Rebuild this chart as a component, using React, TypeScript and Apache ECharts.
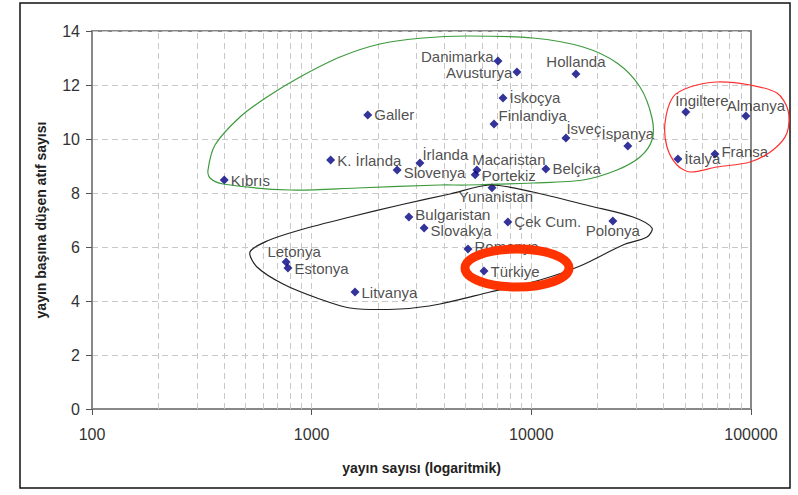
import React, { useEffect, useRef } from "react";
import * as echarts from "echarts";

// Data
const COUNTRIES = [
  "Kıbrıs", "K. İrlanda", "Galler", "Slovenya", "İrlanda", "Macaristan", "Portekiz", "Belçika",
  "Yunanistan", "Danimarka", "Avusturya", "Hollanda", "İskoçya", "Finlandiya", "İsveç", "İspanya",
  "İngiltere", "Almanya", "Fransa", "İtalya", "Bulgaristan", "Slovakya", "Letonya", "Estonya",
  "Litvanya", "Romanya", "Türkiye", "Çek Cum.", "Polonya",
];
const PUBLICATIONS = [
  400, 1220, 1800, 2450, 3110, 5650, 5550, 11650,
  6620, 7050, 8600, 15960, 7430, 6760, 14370, 27500,
  50500, 94800, 68500, 46500, 2770, 3250, 765, 780,
  1575, 5150, 6090, 7820, 23500,
];
const CITATIONS = [
  8.48, 9.22, 10.89, 8.85, 9.11, 8.85, 8.68, 8.89,
  8.19, 12.89, 12.48, 12.41, 11.52, 10.56, 10.04, 9.74,
  11.0, 10.85, 9.44, 9.26, 7.11, 6.7, 5.44, 5.22,
  4.33, 5.93, 5.11, 6.93, 6.96,
];
const X_TICKS = [100, 1000, 10000, 100000];
const X_GRID = [
  200, 300, 400, 500, 600, 700, 800, 900, 1000,
  2000, 3000, 4000, 5000, 6000, 7000, 8000, 9000, 10000,
  20000, 30000, 40000, 50000, 60000, 70000, 80000, 90000,
];
const Y_TICKS = [0, 2, 4, 6, 8, 10, 12, 14];

// Label layout (style, not data)
const LABEL_LAYOUT: Record<string, { position: string; offset?: number[] }> = {
  "Danimarka": { position: "left", offset: [2, -4] },
  "Avusturya": { position: "left", offset: [2, 0] },
  "Hollanda": { position: "top", offset: [0, 2] },
  "Finlandiya": { position: "right", offset: [-2, -8] },
  "İsveç": { position: "right", offset: [-6, -9] },
  "İspanya": { position: "top", offset: [0, 1] },
  "İngiltere": { position: "top", offset: [16, 2] },
  "Almanya": { position: "top", offset: [10, 3] },
  "Fransa": { position: "right", offset: [0, -3] },
  "Macaristan": { position: "top", offset: [32, 3] },
  "Portekiz": { position: "right", offset: [0, 1] },
  "Yunanistan": { position: "bottom", offset: [4, -5] },
  "İrlanda": { position: "right", offset: [-4, -9] },
  "Slovenya": { position: "right", offset: [0, 2] },
  "Letonya": { position: "top", offset: [8, 3] },
  "Polonya": { position: "bottom", offset: [0, -5] },
  "Romanya": { position: "right", offset: [0, -2] },
  "Slovakya": { position: "right", offset: [0, 2] },
  "Bulgaristan": { position: "right", offset: [0, -3] },
};

const GREEN_OUTLINE = [
  [208, 170], [215, 145], [240, 117], [267, 97], [300, 77], [340, 57], [380, 44], [423, 38],
  [467, 36], [533, 38], [583, 47], [617, 63], [640, 87], [652, 118], [652, 140], [640, 157],
  [617, 170], [583, 180], [533, 183], [467, 185], [440, 185], [357, 188], [290, 190], [223, 184],
  [210, 178],
];
const BLACK_OUTLINE = [
  [250, 252], [267, 241], [300, 230], [350, 217], [400, 205], [450, 194], [490, 185], [533, 192],
  [590, 206], [633, 217], [652, 228], [647, 237], [623, 245], [580, 266], [540, 280], [490, 292],
  [440, 304], [400, 309], [350, 308], [317, 298], [283, 284], [257, 267],
];
const RED_OUTLINE = [
  [665, 123], [673, 97], [690, 87], [717, 82], [750, 85], [777, 93], [788, 110], [787, 133],
  [773, 150], [750, 162], [717, 167], [690, 172], [677, 165], [667, 147],
];

export default function App() {
  const ref = useRef<HTMLDivElement>(null);
  useEffect(() => {
    if (!ref.current) return;
    const chart = echarts.init(ref.current, undefined, { renderer: "svg" });
    const font = "Liberation Sans, Arial, sans-serif";
    const data = COUNTRIES.map((name, i) => {
      const lay = LABEL_LAYOUT[name] || { position: "right" };
      return {
        name,
        value: [PUBLICATIONS[i], CITATIONS[i]],
        label: { position: lay.position, offset: lay.offset || [0, 0] },
      };
    });
    chart.setOption({
      animation: false,
      backgroundColor: "#ffffff",
      grid: {
        left: 92, top: 31, right: 47, bottom: 86,
        show: true, borderColor: "#888888", borderWidth: 2, backgroundColor: "transparent",
      },
      xAxis: {
        type: "log",
        logBase: 10,
        min: X_TICKS[0],
        max: X_TICKS[X_TICKS.length - 1],
        name: "yayın sayısı (logaritmik)",
        nameLocation: "middle",
        nameGap: 52,
        nameTextStyle: { fontFamily: font, fontWeight: "bold", fontSize: 14, color: "#222" },
        axisLine: { show: true, lineStyle: { color: "#888888", width: 2 } },
        axisTick: { show: true, length: 6, lineStyle: { color: "#555", width: 1 } },
        axisLabel: {
          fontFamily: font, fontSize: 16, color: "#333", margin: 17,
          formatter: (v: number) => String(Math.round(v)),
        },
        splitLine: { show: false },
      },
      yAxis: {
        type: "value",
        min: Y_TICKS[0],
        max: Y_TICKS[Y_TICKS.length - 1],
        interval: 2,
        name: "yayın başına düşen atıf sayısı",
        nameLocation: "middle",
        nameGap: 44,
        nameRotate: 90,
        nameTextStyle: { fontFamily: font, fontWeight: "bold", fontSize: 14, color: "#222" },
        axisLine: { show: true, lineStyle: { color: "#888888", width: 2 } },
        axisTick: { show: true, length: 6, lineStyle: { color: "#555", width: 1 } },
        axisLabel: { fontFamily: font, fontSize: 16, color: "#333", margin: 12 },
        splitLine: { show: true, lineStyle: { color: "#c8c8c8", type: [6, 4], width: 1 } },
      },
      series: [
        {
          type: "scatter",
          symbol: "diamond",
          symbolSize: 9,
          itemStyle: { color: "#000080" },
          label: {
            show: true,
            formatter: "{b}",
            fontFamily: font,
            fontSize: 15,
            color: "#222",
            distance: 2,
          },
          data,
          z: 5,
          markLine: {
            silent: true,
            symbol: "none",
            label: { show: false },
            lineStyle: { color: "#c8c8c8", type: [6, 4], width: 1 },
            data: X_GRID.map((v) => ({ xAxis: v })),
            z: 1,
          },
        },
      ],
      graphic: [
        {
          type: "rect",
          shape: { x: 20, y: 3, width: 770, height: 485 },
          style: { fill: "none", stroke: "#111", lineWidth: 1.5 },
          z: 0,
        },
        {
          type: "polygon",
          shape: { points: GREEN_OUTLINE, smooth: 0.3 },
          style: { fill: "none", stroke: "#3c9a3c", lineWidth: 1.2 },
          z: 10,
        },
        {
          type: "polygon",
          shape: { points: BLACK_OUTLINE, smooth: 0.3 },
          style: { fill: "none", stroke: "#222", lineWidth: 1.2 },
          z: 10,
        },
        {
          type: "polygon",
          shape: { points: RED_OUTLINE, smooth: 0.3 },
          style: { fill: "none", stroke: "#ff3030", lineWidth: 1.2 },
          z: 10,
        },
        {
          type: "ellipse",
          shape: { cx: 517, cy: 268, rx: 52, ry: 19 },
          style: { fill: "none", stroke: "#ff3300", lineWidth: 9 },
          z: 20,
        },
      ],
    });
    return () => chart.dispose();
  }, []);
  return (
    <div
      ref={ref}
      style={{ position: "fixed", left: 0, top: 0, width: 798, height: 495, background: "#fff" }}
    />
  );
}
